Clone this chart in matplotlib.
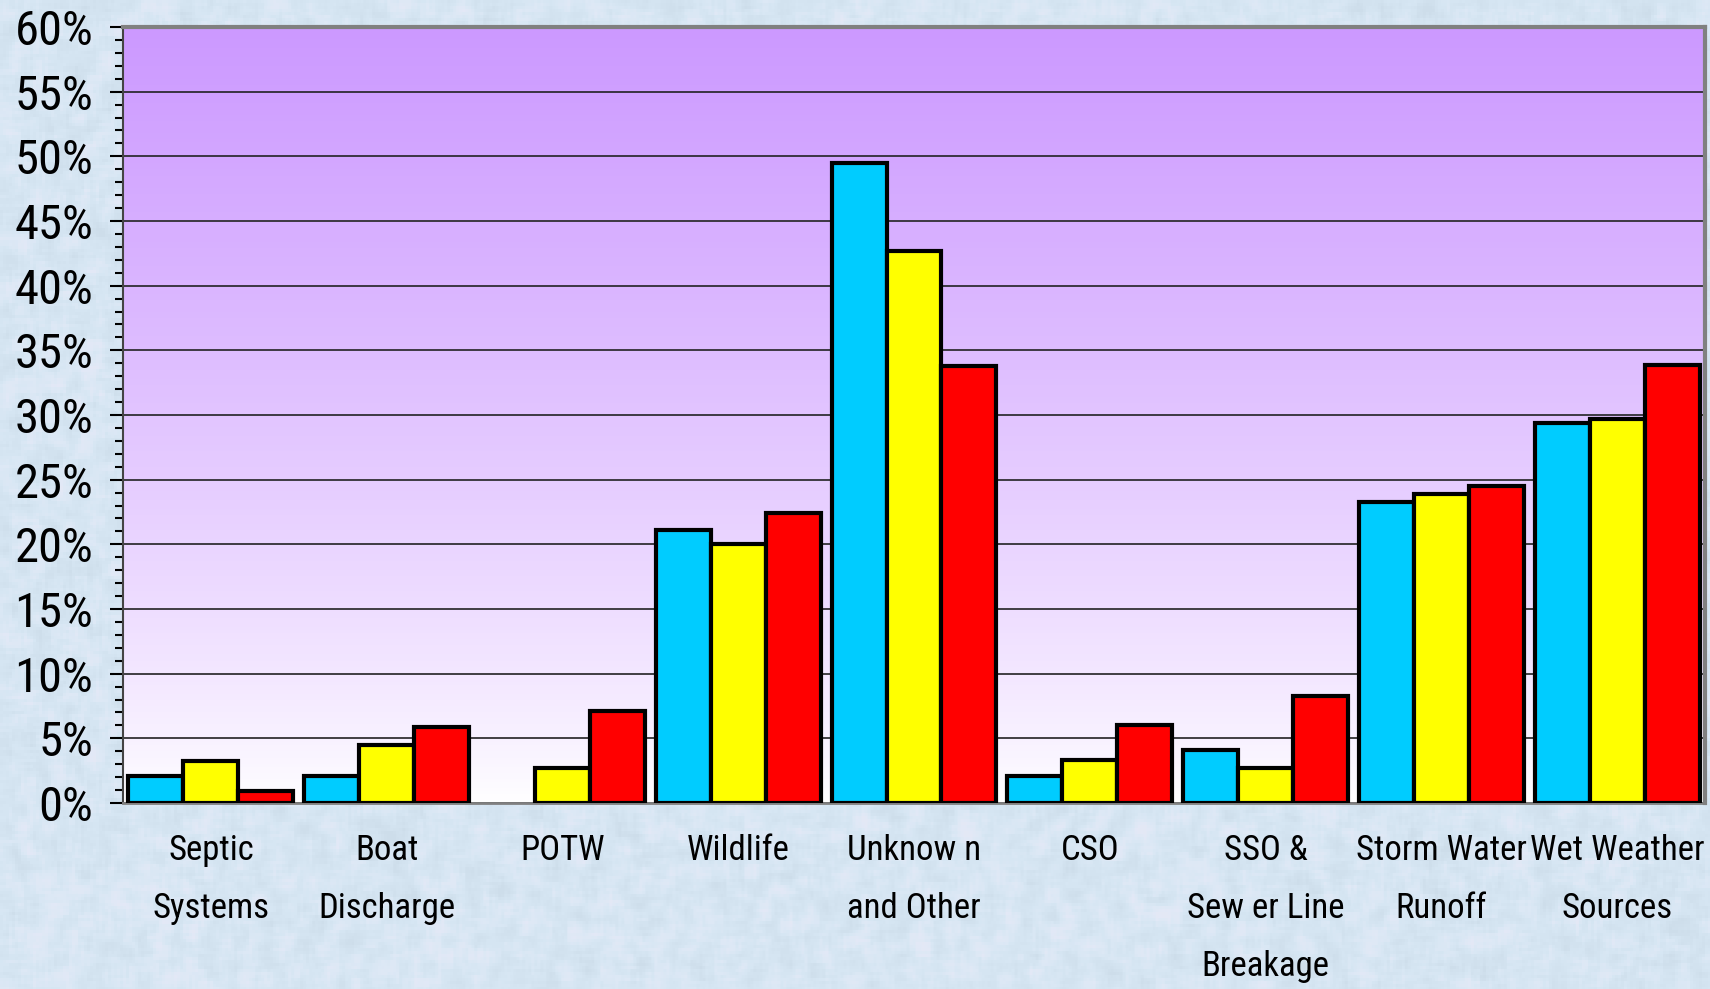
import numpy as np
import matplotlib
matplotlib.use("Agg")
import matplotlib.pyplot as plt
from matplotlib.colors import LinearSegmentedColormap
from matplotlib.ticker import MultipleLocator, PercentFormatter

plt.rcParams['font.family'] = ['Roboto Condensed', 'DejaVu Sans']

categories = ["Septic\nSystems", "Boat\nDischarge", "POTW", "Wildlife",
              "Unknow n\nand Other", "CSO", "SSO &\nSew er Line\nBreakage",
              "Storm Water\nRunoff", "Wet Weather\nSources"]

# three survey series, percent of sources
series_a = [2.1, 2.1, 0.0, 21.1, 49.5, 2.1, 4.1, 23.25, 29.4]
series_b = [3.25, 4.45, 2.7, 20.05, 42.7, 3.3, 2.7, 23.9, 29.7]
series_c = [0.9, 5.9, 7.1, 22.4, 33.8, 6.0, 8.3, 24.5, 33.9]
colors = ["#00CCFF", "#FFFF00", "#FF0000"]

fig = plt.figure(figsize=(17.1, 9.89), dpi=100)

# light blue paper texture behind everything
rng = np.random.default_rng(7)
h, w = 989, 1710
noise = rng.normal(0, 1, (h // 3 + 1, w // 3 + 1))
k = np.ones(5) / 5
noise = np.apply_along_axis(lambda r: np.convolve(r, k, mode='same'), 1, noise)
noise = np.apply_along_axis(lambda c: np.convolve(c, k, mode='same'), 0, noise)
noise = np.kron(noise, np.ones((3, 3)))[:h, :w]
base = np.array([214, 230, 243]) / 255.0
pink = np.array([232, 226, 240]) / 255.0
t = np.clip(noise * 1.6, -1, 1)
tex = base[None, None, :] + 0.035 * t[..., None]
mix = np.clip(t, 0, 1)[..., None] * 0.5
tex = tex * (1 - mix) + pink[None, None, :] * mix
bg = fig.add_axes([0, 0, 1, 1], zorder=-10)
bg.imshow(np.clip(tex, 0, 1), aspect='auto', interpolation='bilinear')
bg.axis('off')

ax = fig.add_axes([123 / 1710, 1 - 803 / 989, (1705 - 123) / 1710, (803 - 27) / 989])

x = np.arange(len(categories))
width = 0.3125
for i, (vals, col) in enumerate(zip([series_a, series_b, series_c], colors)):
    bars = ax.bar(x + (i - 1) * width, vals, width, color=col, edgecolor='black',
                  linewidth=3, zorder=3)
    # empty bars leave no outline
    for b in bars:
        if b.get_height() == 0:
            b.set_visible(False)

ax.set_xlim(-0.5, len(categories) - 0.5)
ax.set_ylim(0, 60)

# purple to white gradient in the plot area
grad = LinearSegmentedColormap.from_list('pw', ['#FFFFFF', '#CC99FF'])
g = np.linspace(0, 1, 256).reshape(-1, 1) ** 0.8
ax.imshow(g, cmap=grad, aspect='auto', origin='lower',
          extent=[-0.5, len(categories) - 0.5, 0, 60], zorder=0)

ax.yaxis.set_major_locator(MultipleLocator(5))
ax.yaxis.set_minor_locator(MultipleLocator(1))
ax.yaxis.set_major_formatter(PercentFormatter(decimals=0))
ax.grid(axis='y', which='major', color='#222222', linewidth=1.2, zorder=1)
ax.set_axisbelow(True)

ax.set_xticks(x)
ax.set_xticklabels(categories, fontsize=25, linespacing=1.97)
ax.tick_params(axis='x', length=0, pad=22)
ax.tick_params(axis='y', which='major', length=9.5, width=1.5, labelsize=35, pad=12)
ax.tick_params(axis='y', which='minor', length=5.5, width=1.5)

for side in ['top', 'right']:
    ax.spines[side].set_color('#808080')
    ax.spines[side].set_linewidth(3)
ax.spines['left'].set_color('#444444')
ax.spines['left'].set_linewidth(1.5)
ax.spines['bottom'].set_color('#808080')
ax.spines['bottom'].set_linewidth(2)

fig.savefig('out.png', dpi=100)
